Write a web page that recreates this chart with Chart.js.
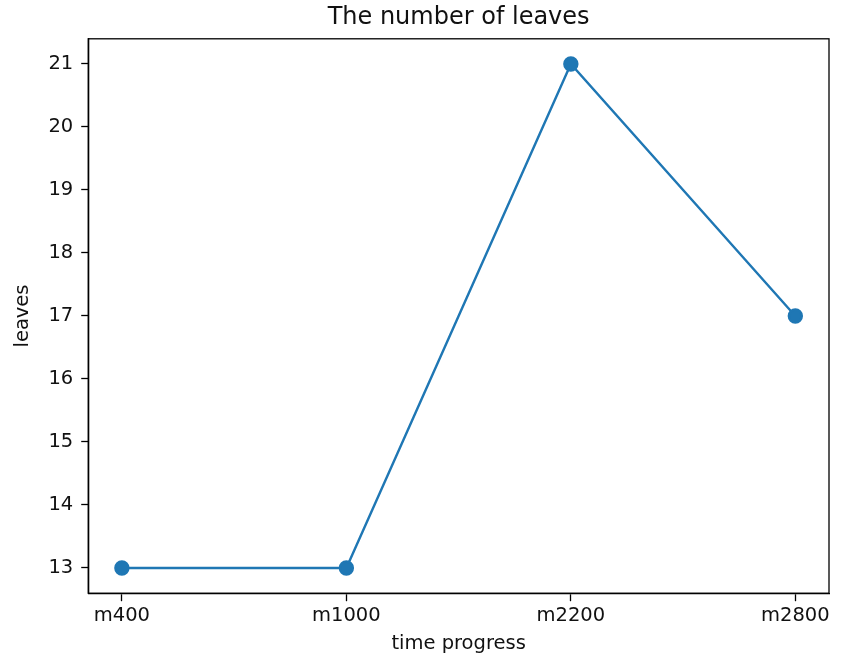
<!DOCTYPE html>
<html>
<head>
<meta charset="utf-8">
<script src="https://cdn.jsdelivr.net/npm/chart.js@4"></script>
<style>
  html, body { margin: 0; padding: 0; background: #fff; }
  #wrap { width: 844px; height: 656px; }
</style>
</head>
<body>
<div id="wrap"><canvas id="c" width="844" height="656"></canvas></div>
<script>
const categories = ["m400", "m1000", "m2200", "m2800"];
const leaves = [13, 13, 21, 17];
const yTicks = [13, 14, 15, 16, 17, 18, 19, 20, 21];

const FONT = "'DejaVu Sans', sans-serif";
const points = leaves.map((v, i) => ({ x: i, y: v }));

const framePlugin = {
  id: 'frame',
  afterDraw(chart) {
    const { ctx, chartArea: a } = chart;
    ctx.save();
    ctx.strokeStyle = '#000';
    ctx.lineWidth = 1.3;
    ctx.strokeRect(a.left, a.top, a.right - a.left, a.bottom - a.top);
    ctx.restore();
  }
};

new Chart(document.getElementById('c'), {
  type: 'line',
  data: {
    datasets: [{
      data: points,
      borderColor: '#1f77b4',
      backgroundColor: '#1f77b4',
      borderWidth: 2.4,
      pointRadius: 6.5,
      pointHoverRadius: 6.5,
      pointBackgroundColor: '#1f77b4',
      pointBorderColor: '#1f77b4',
      tension: 0,
      fill: false
    }]
  },
  options: {
    responsive: false,
    animation: false,
    layout: { padding: { left: 11, right: 15, top: 0, bottom: 0 } },
    plugins: {
      legend: { display: false },
      tooltip: { enabled: false },
      title: {
        display: true,
        text: 'The number of leaves',
        fullSize: false,
        color: '#111',
        font: { family: FONT, size: 24, weight: 'normal' },
        padding: { top: 3, bottom: 7 }
      }
    },
    scales: {
      x: {
        type: 'linear',
        min: -0.15,
        max: 3.15,
        grid: { drawOnChartArea: false, drawTicks: true, tickLength: 8, color: '#000', tickWidth: 1.3 },
        border: { display: true, color: '#000', width: 1.3 },
        ticks: {
          stepSize: 1,
          includeBounds: false,
          autoSkip: false,
          maxRotation: 0,
          color: '#111',
          padding: 3,
          font: { family: FONT, size: 19.5 },
          callback: (v) => (Number.isInteger(v) && categories[v] !== undefined) ? categories[v] : ''
        },
        afterBuildTicks: (s) => { s.ticks = categories.map((c, i) => ({ value: i })); },
        title: {
          display: true,
          text: 'time progress',
          color: '#111',
          font: { family: FONT, size: 19.5 },
          padding: { top: 2, bottom: 0 }
        }
      },
      y: {
        type: 'linear',
        min: 12.6,
        max: 21.4,
        grid: { drawOnChartArea: false, drawTicks: true, tickLength: 7, color: '#000', tickWidth: 1.3 },
        border: { display: true, color: '#000', width: 1.3 },
        afterBuildTicks: (s) => { s.ticks = yTicks.map(v => ({ value: v })); },
        ticks: {
          color: '#111',
          padding: 8,
          font: { family: FONT, size: 19.5 }
        },
        title: {
          display: true,
          text: 'leaves',
          color: '#111',
          font: { family: FONT, size: 19.5 },
          padding: { top: 0, bottom: 6 }
        }
      }
    }
  },
  plugins: [framePlugin]
});
</script>
</body>
</html>
